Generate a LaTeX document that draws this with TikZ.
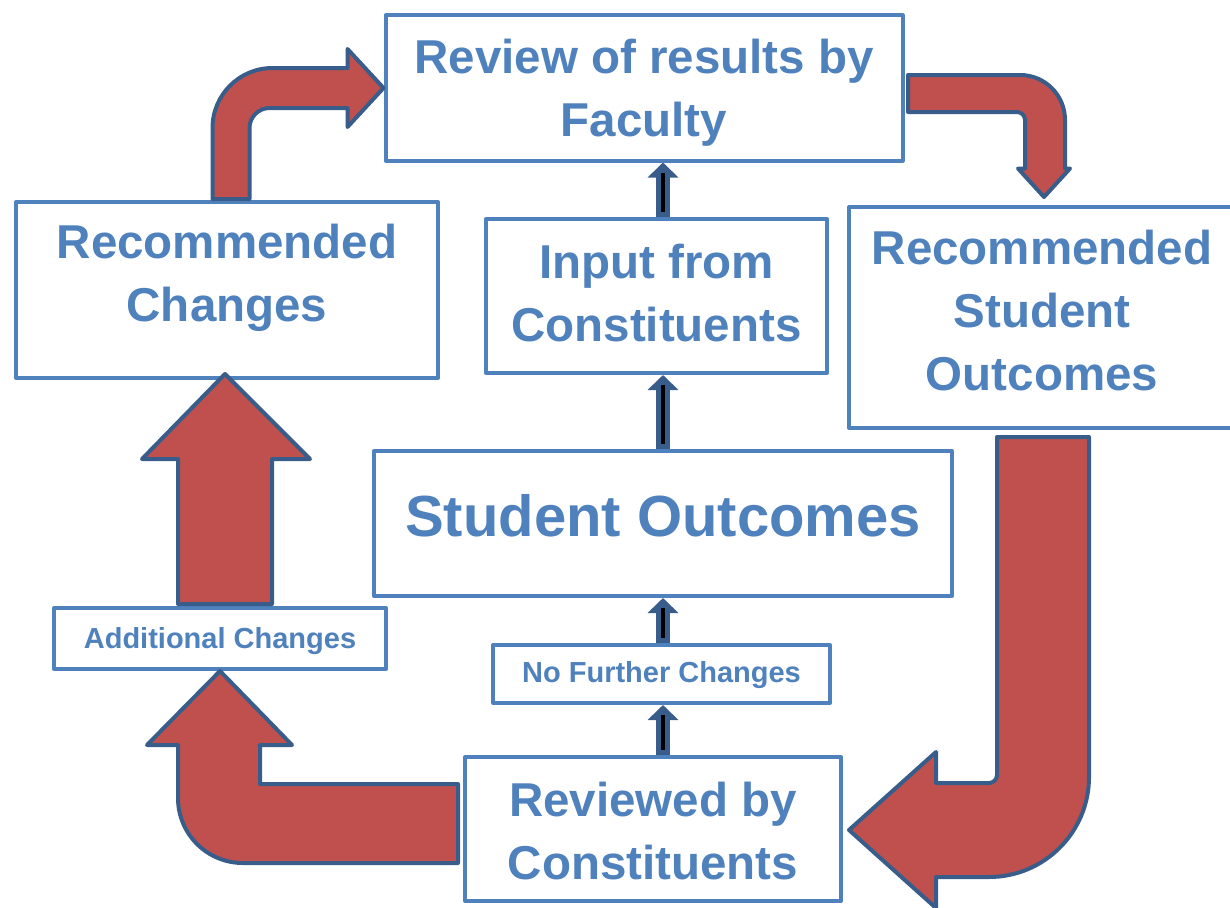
\documentclass[tikz,border=0pt]{standalone}
\usepackage{fontspec}
\setmainfont{Liberation Sans}
\usetikzlibrary{arrows.meta,calc}
\definecolor{boxblue}{HTML}{4F81BD}
\definecolor{arrred}{HTML}{C0504D}
\definecolor{arrline}{HTML}{385D8A}
\tikzset{
	stepbox/.style={draw=boxblue,line width=4pt,fill=white,inner sep=0pt},
	boxtext/.style={text=boxblue,inner sep=0pt,align=center,font=\bfseries\fontsize{47.5}{63}\selectfont},
	smalltext/.style={boxtext,font=\bfseries\fontsize{29}{34}\selectfont},
	blockarrow/.style={fill=arrred,draw=arrline,line width=4pt,line join=round},
	thinarrow/.style={draw=arrline,line width=14pt,-{Triangle[width=30pt,length=15pt]},postaction={draw=black,line width=4pt,-,shorten <=5pt,shorten >=10pt}}
}
\begin{document}
\begin{tikzpicture}[x=1pt,y=-1pt,line join=round]
			\useasboundingbox (0,0) rectangle (1230,907);
			\node[stepbox,minimum width=517pt,minimum height=145pt] (review) at (644,88) {};
			\node[stepbox,minimum width=422pt,minimum height=176pt] (recch) at (227,290) {};
			\node[stepbox,minimum width=341pt,minimum height=154pt] (input) at (656.5,296) {};
			\node[stepbox,minimum width=386pt,minimum height=221pt] (recso) at (1042,317.5) {};
			\node[stepbox,minimum width=578pt,minimum height=145pt] (stud) at (663,523.5) {};
			\node[stepbox,minimum width=332pt,minimum height=61pt] (addl) at (220,638.5) {};
			\node[stepbox,minimum width=337pt,minimum height=58pt] (nofurther) at (661.5,674) {};
			\node[stepbox,minimum width=376pt,minimum height=144pt] (reviewed) at (653,829) {};
			\node[boxtext] (review-t) at ($(review)+(0,5)$) {Review of results by\\Faculty};
			\node[boxtext] (recch-t) at ($(recch)+(0,-12)$) {Recommended\\Changes};
			\node[boxtext] (input-t) at ($(input)+(0,-3)$) {Input from\\Constituents};
			\node[boxtext] (recso-t) at ($(recso)+(0,-7)$) {Recommended\\Student\\Outcomes};
			\node[boxtext,font=\bfseries\fontsize{58}{66}\selectfont] (stud-t) at ($(stud)+(0,-8)$) {Student Outcomes};
			\node[smalltext] (addl-t) at ($(addl)+(0,3)$) {Additional Changes};
			\node[smalltext] (nofurther-t) at ($(nofurther)+(0,1)$) {No Further Changes};
			\node[boxtext] (reviewed-t) at ($(reviewed)+(0,2)$) {Reviewed by\\Constituents};
			\draw[thinarrow] (stud.south |- reviewed.north) -- (stud.south |- nofurther.south);
			\draw[thinarrow] (stud.south |- nofurther.north) -- (stud.south);
			\draw[thinarrow] (stud.north) -- (stud.north |- input.south);
			\draw[thinarrow] (stud.north |- input.north) -- (stud.north |- review.south);
			\draw[blockarrow] ($(recch.south)+(-2,-6)$) -- ++(85,85) -- ++(-38,0) -- ++(0,145) -- ++(-94,0) -- ++(0,-145) -- ++(-36,0) -- cycle;
			\draw[blockarrow] (addl.south) -- (292,745) -- (260,745) -- (260,784) -- (458,784) -- (458,863) -- (243,863) .. controls (207,863) and (178,834) .. (178,798) -- (178,745) -- (147,745) -- cycle;
			\draw[blockarrow] ($(reviewed.east)+(6,1)$) -- (936,752) -- (936,783) -- (989,783) .. controls (993.4,783) and (997,779.4) .. (997,775) -- (997,437) -- (1089,437) -- (1089,777) .. controls (1089,832.2) and (1044.2,877) .. (989,877) -- (936,877) -- (936,908) -- cycle;
			\draw[blockarrow] (review.west) -- (347.5,49) -- (347.5,68) -- (272.5,68) .. controls (239.4,68) and (212.5,94.9) .. (212.5,128) -- (212.5,199) -- (249.5,199) -- (249.5,128) .. controls (249.5,117) and (258.5,108) .. (269.5,108) -- (347.5,108) -- (347.5,127) -- cycle;
			\draw[blockarrow] ($(recso.north)+(2,-8)$) -- (1070,168.5) -- (1065,168.5) -- (1065,120) .. controls (1065,95.1) and (1044.9,75) .. (1020,75) -- (908,75) -- (908,112) -- (1017,112) .. controls (1021.4,112) and (1025,115.6) .. (1025,120) -- (1025,168.5) -- (1018,168.5) -- cycle;
\end{tikzpicture}
\end{document}
